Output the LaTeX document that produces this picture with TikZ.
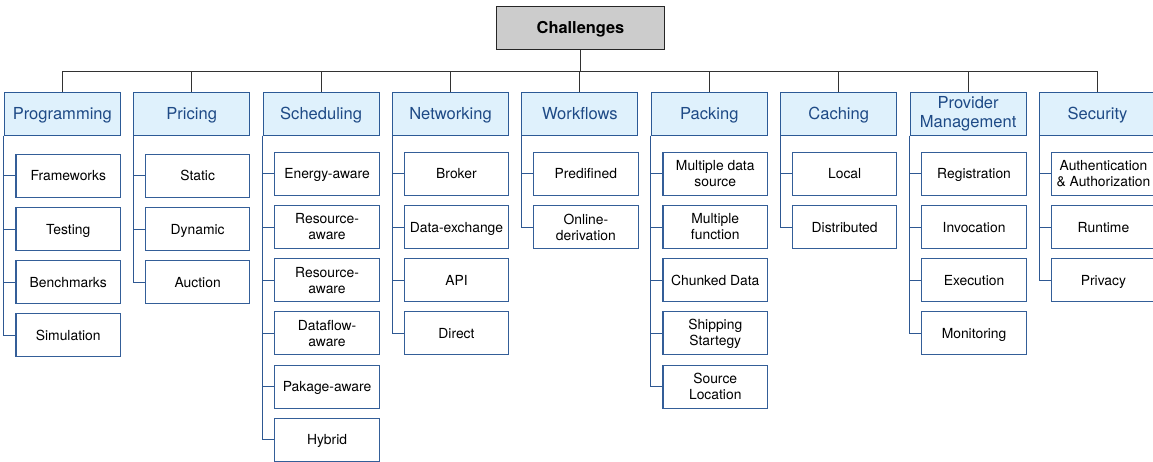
\documentclass[tikz,border=0pt]{standalone}
\usepackage{fontspec}
\setmainfont{TeX Gyre Heros}
\definecolor{catfill}{RGB}{223,241,252}
\definecolor{catdraw}{RGB}{44,90,150}
\definecolor{cattext}{RGB}{30,74,134}
\definecolor{leafdraw}{RGB}{52,94,152}
\definecolor{treeline}{RGB}{46,88,146}
\definecolor{rootfill}{RGB}{204,204,204}
\definecolor{topline}{RGB}{50,50,50}
\tikzset{
  catbox/.style={draw=catdraw, fill=catfill, text=cattext, line width=0.8pt,
    minimum width=87pt, minimum height=32.25pt, inner sep=0pt, align=center,
    font=\fontsize{12.4}{14.8}\selectfont, text height=8.9pt, text depth=0pt},
  leafbox/.style={draw=leafdraw, fill=white, text=black, line width=0.8pt,
    minimum width=78.4pt, minimum height=32.25pt, inner sep=0pt, align=center,
    font=\fontsize{10.4}{12}\selectfont, text height=7.5pt, text depth=0pt},
  twoline/.style={text height={}, text depth={}},
  rootbox/.style={draw=black!85, fill=rootfill, line width=0.8pt,
    minimum width=125.7pt, minimum height=32pt, inner sep=0pt,
    font=\fontsize{12.3}{14}\selectfont\bfseries, text height=8.9pt, text depth=0pt},
  topconn/.style={draw=topline, line width=0.7pt},
  treeconn/.style={draw=treeline, line width=0.7pt},
}
\begin{document}
\begin{tikzpicture}[x=0.75pt,y=-0.75pt]
\useasboundingbox[fill=white] (0,0) rectangle (1153,461);
% root
\node[rootbox] (root) at (580.5,28) {Challenges};
\coordinate (bus) at (580.5,71);
% categories
\node[catbox] (c0) at (62.3,113.8) {Programming};
\node[catbox] (c1) at (191.7,113.8) {Pricing};
\node[catbox] (c2) at (321.1,113.8) {Scheduling};
\node[catbox] (c3) at (450.5,113.8) {Networking};
\node[catbox] (c4) at (579.9,113.8) {Workflows};
\node[catbox] (c5) at (709.3,113.8) {Packing};
\node[catbox] (c6) at (838.7,113.8) {Caching};
\node[catbox,twoline] (c7) at (968.1,113.8) {Provider\\Management};
\node[catbox] (c8) at (1097.5,113.8) {Security};
% top connectors
\draw[topconn] (root.south) -- (bus);
\draw[topconn] (c0.north |- bus) -- (c8.north |- bus);
\foreach \c in {c0,c1,c2,c3,c4,c5,c6,c7,c8}
  \draw[topconn] (\c.north |- bus) -- (\c.north);
% Programming
\node[leafbox] (l00) at (68.25,175.8) {Frameworks};
\node[leafbox] (l01) at (68.25,229.0) {Testing};
\node[leafbox] (l02) at (68.25,282.2) {Benchmarks};
\node[leafbox] (l03) at (68.25,335.4) {Simulation};
% Pricing
\node[leafbox] (l10) at (197.65,175.8) {Static};
\node[leafbox] (l11) at (197.65,229.0) {Dynamic};
\node[leafbox] (l12) at (197.65,282.2) {Auction};
% Scheduling
\node[leafbox] (l20) at (327.05,173.8) {Energy-aware};
\node[leafbox,twoline] (l21) at (327.05,227.0) {Resource-\\aware};
\node[leafbox,twoline] (l22) at (327.05,280.2) {Resource-\\aware};
\node[leafbox,twoline] (l23) at (327.05,333.4) {Dataflow-\\aware};
\node[leafbox] (l24) at (327.05,386.6) {Pakage-aware};
\node[leafbox] (l25) at (327.05,439.8) {Hybrid};
% Networking
\node[leafbox] (l30) at (456.45,173.8) {Broker};
\node[leafbox] (l31) at (456.45,227.0) {Data-exchange};
\node[leafbox] (l32) at (456.45,280.2) {API};
\node[leafbox] (l33) at (456.45,333.4) {Direct};
% Workflows
\node[leafbox] (l40) at (585.85,173.8) {Predifined};
\node[leafbox,twoline] (l41) at (585.85,227.0) {Online-\\derivation};
% Packing
\node[leafbox,twoline] (l50) at (715.25,173.8) {Multiple data\\source};
\node[leafbox,twoline] (l51) at (715.25,227.0) {Multiple\\function};
\node[leafbox] (l52) at (715.25,280.2) {Chunked Data};
\node[leafbox,twoline] (l53) at (715.25,333.4) {Shipping\\Startegy};
\node[leafbox,twoline] (l54) at (715.25,386.6) {Source\\Location};
% Caching
\node[leafbox] (l60) at (844.65,173.8) {Local};
\node[leafbox] (l61) at (844.65,227.0) {Distributed};
% Provider Management
\node[leafbox] (l70) at (974.05,173.8) {Registration};
\node[leafbox] (l71) at (974.05,227.0) {Invocation};
\node[leafbox] (l72) at (974.05,280.2) {Execution};
\node[leafbox] (l73) at (974.05,333.4) {Monitoring};
% Security
\node[leafbox,twoline] (l80) at (1103.45,173.8) {Authentication\\\&~Authorization};
\node[leafbox] (l81) at (1103.45,227.0) {Runtime};
\node[leafbox] (l82) at (1103.45,280.2) {Privacy};
% tree connectors
\foreach \c/\leaves in {c0/{l00,l01,l02,l03}, c1/{l10,l11,l12},
    c2/{l20,l21,l22,l23,l24,l25}, c3/{l30,l31,l32,l33}, c4/{l40,l41},
    c5/{l50,l51,l52,l53,l54}, c6/{l60,l61}, c7/{l70,l71,l72,l73},
    c8/{l80,l81,l82}}
  \foreach \l in \leaves
    \draw[treeconn] (\c.south west) |- (\l.west);
\end{tikzpicture}
\end{document}
